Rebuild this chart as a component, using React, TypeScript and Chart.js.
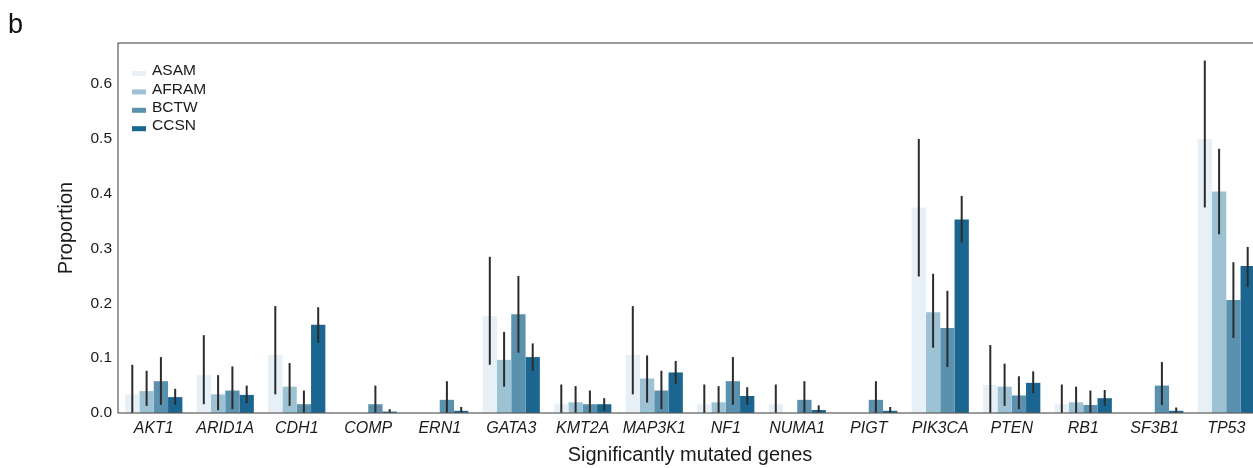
import React, { useEffect, useRef } from "react";
import { Chart, registerables } from "chart.js";

Chart.register(...registerables);

const genes = ["AKT1", "ARID1A", "CDH1", "COMP", "ERN1", "GATA3", "KMT2A", "MAP3K1", "NF1", "NUMA1", "PIGT", "PIK3CA", "PTEN", "RB1", "SF3B1", "TP53"];

const seriesNames = ["ASAM", "AFRAM", "BCTW", "CCSN"];
const seriesColors = ["#e6f0f6", "#9dc2d4", "#5a91ae", "#1a6690"];

const asam = [0.034, 0.069, 0.106, 0, 0, 0.177, 0.016, 0.106, 0.016, 0.016, 0, 0.375, 0.051, 0.016, 0, 0.5];
const asamLo = [0, 0.016, 0.034, 0, 0, 0.088, 0, 0.034, 0, 0, 0, 0.249, 0, 0, 0, 0.375];
const asamHi = [0.088, 0.142, 0.195, 0, 0, 0.285, 0.052, 0.195, 0.052, 0.052, 0, 0.5, 0.124, 0.052, 0, 0.643];

const afram = [0.04, 0.034, 0.048, 0, 0, 0.097, 0.0195, 0.063, 0.0195, 0, 0, 0.184, 0.048, 0.0195, 0, 0.404];
const aframLo = [0.013, 0.005, 0.013, 0, 0, 0.048, 0, 0.019, 0, 0, 0, 0.119, 0.013, 0, 0, 0.326];
const aframHi = [0.077, 0.069, 0.091, 0, 0, 0.148, 0.049, 0.105, 0.049, 0, 0, 0.254, 0.09, 0.048, 0, 0.482];

const bctw = [0.058, 0.041, 0.016, 0.016, 0.024, 0.18, 0.016, 0.041, 0.058, 0.024, 0.024, 0.155, 0.032, 0.0146, 0.05, 0.206];
const bctwLo = [0.015, 0.007, 0, 0, 0, 0.11, 0, 0.007, 0.015, 0, 0, 0.084, 0.007, 0, 0.0146, 0.137];
const bctwHi = [0.102, 0.085, 0.041, 0.05, 0.058, 0.25, 0.041, 0.077, 0.102, 0.058, 0.058, 0.223, 0.067, 0.041, 0.093, 0.275];

const ccsn = [0.029, 0.033, 0.161, 0.0025, 0.004, 0.102, 0.016, 0.074, 0.031, 0.0055, 0.004, 0.353, 0.055, 0.027, 0.004, 0.268];
const ccsnLo = [0.015, 0.018, 0.128, 0, 0, 0.077, 0.004, 0.053, 0.015, 0, 0, 0.311, 0.036, 0.013, 0, 0.23];
const ccsnHi = [0.044, 0.05, 0.193, 0.007, 0.011, 0.127, 0.027, 0.095, 0.047, 0.014, 0.011, 0.396, 0.076, 0.042, 0.01, 0.303];

const values = [asam, afram, bctw, ccsn];
const lows = [asamLo, aframLo, bctwLo, ccsnLo];
const highs = [asamHi, aframHi, bctwHi, ccsnHi];

const yTicks = [0, 0.1, 0.2, 0.3, 0.4, 0.5, 0.6];

const FONT = "'Liberation Sans', Arial, Helvetica, sans-serif";

const extrasPlugin = {
  id: "extras",
  afterDatasetsDraw(chart: any) {
    const ctx = chart.ctx;
    const y = chart.scales.y;
    ctx.save();
    ctx.strokeStyle = "#2b2b2b";
    ctx.lineWidth = 2;
    chart.data.datasets.forEach((ds: any, di: number) => {
      const meta = chart.getDatasetMeta(di);
      meta.data.forEach((bar: any, i: number) => {
        const lo = ds.errLo[i];
        const hi = ds.errHi[i];
        if (hi - lo <= 0) return;
        ctx.beginPath();
        ctx.moveTo(bar.x, y.getPixelForValue(lo));
        ctx.lineTo(bar.x, y.getPixelForValue(hi));
        ctx.stroke();
      });
    });
    ctx.restore();
  },
  afterDraw(chart: any) {
    const ctx = chart.ctx;
    const a = chart.chartArea;
    ctx.save();
    // frame
    ctx.strokeStyle = "#5a5a5a";
    ctx.lineWidth = 1.2;
    ctx.strokeRect(a.left, a.top, a.right - a.left, a.bottom - a.top);
    // legend
    ctx.font = `15.5px ${FONT}`;
    ctx.textBaseline = "middle";
    ctx.textAlign = "left";
    chart.data.datasets.forEach((ds: any, di: number) => {
      const cy = 71 + di * 18.4;
      ctx.fillStyle = ds.backgroundColor;
      ctx.fillRect(a.left + 14, cy, 14, 5);
      ctx.fillStyle = "#1a1a1a";
      ctx.fillText(ds.label, a.left + 34, cy);
    });
    // panel letter
    ctx.font = `27px ${FONT}`;
    ctx.textBaseline = "alphabetic";
    ctx.fillStyle = "#111";
    ctx.fillText("b", 8, 33);
    ctx.restore();
  },
};

export default function App() {
  const ref = useRef<HTMLCanvasElement>(null);
  useEffect(() => {
    if (!ref.current) return;
    const chart = new Chart(ref.current, {
      type: "bar",
      data: {
        labels: genes,
        datasets: seriesNames.map((name, k) => ({
          label: name,
          data: values[k],
          errLo: lows[k],
          errHi: highs[k],
          backgroundColor: seriesColors[k],
          borderWidth: 0,
          barPercentage: 1.0,
          categoryPercentage: 0.8,
        })) as any,
      },
      options: {
        animation: false,
        responsive: false,
        maintainAspectRatio: false,
        devicePixelRatio: 1,
        layout: { padding: { left: 0, top: 43, right: 18, bottom: 0 } },
        plugins: { legend: { display: false }, tooltip: { enabled: false } },
        scales: {
          x: {
            offset: true,
            grid: { display: false, drawTicks: false },
            border: { display: false },
            ticks: {
              color: "#1a1a1a",
              padding: 6,
              font: { family: FONT, size: 16, style: "italic" },
              maxRotation: 0,
              autoSkip: false,
            },
            title: {
              display: true,
              text: "Significantly mutated genes",
              color: "#1a1a1a",
              font: { family: FONT, size: 20 },
              padding: { top: 0, bottom: 1 },
            },
            afterFit(scale: any) {
              scale.height = 55;
            },
          },
          y: {
            min: 0,
            max: 0.675,
            grid: { display: false, drawTicks: false },
            border: { display: false },
            afterBuildTicks(scale: any) {
              scale.ticks = yTicks.map((v) => ({ value: v }));
            },
            ticks: {
              color: "#1a1a1a",
              padding: 6,
              font: { family: FONT, size: 15.5 },
              callback: (v: any) => Number(v).toFixed(1),
            },
            title: {
              display: true,
              text: "Proportion",
              color: "#1a1a1a",
              font: { family: FONT, size: 20 },
              padding: { top: 54, bottom: 0 },
            },
            afterFit(scale: any) {
              scale.width = 118;
            },
          },
        },
      },
      plugins: [extrasPlugin],
    });
    return () => chart.destroy();
  }, []);
  return (
    <div style={{ position: "fixed", left: 0, top: 0, width: 1253, height: 468, overflow: "hidden", background: "#fff" }}>
      <canvas ref={ref} width={1280} height={468} style={{ display: "block", width: 1280, height: 468 }} />
    </div>
  );
}
